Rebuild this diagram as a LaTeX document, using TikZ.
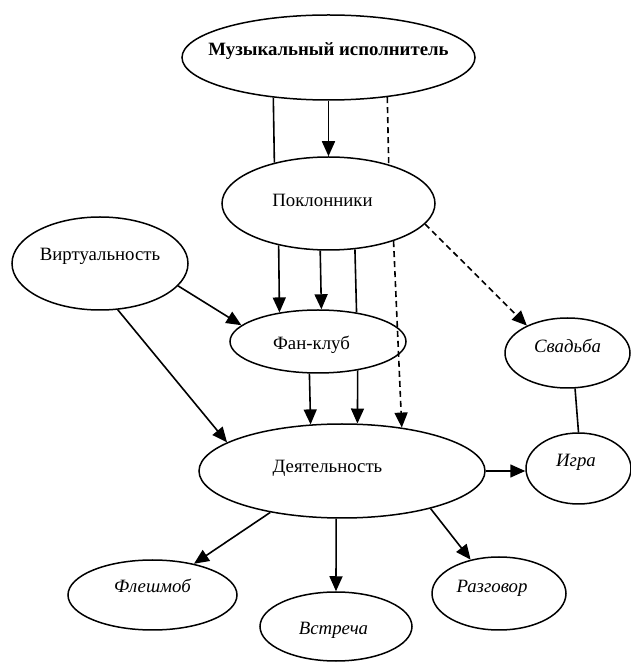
\documentclass[tikz,border=0pt]{standalone}
\usepackage{fontspec}
\setmainfont{Liberation Serif}
\usetikzlibrary{arrows.meta,shapes.geometric}
\newcommand\eltxt[3]{\makebox[0pt]{\hspace*{#1}\raisebox{#2}[0pt][0pt]{#3}}}
\begin{document}
\begin{tikzpicture}[x=1pt,y=1pt,
  txt/.style={font=\fontsize{18.8}{22}\selectfont},
  el/.style={ellipse, draw, line width=1.5pt, inner sep=0pt, txt},
  arr/.style={-{Triangle[length=15pt,width=13pt]}, line width=1.6pt},
  ln/.style={line width=1.6pt},
  dsh/.style={dash pattern=on 6pt off 4pt}]
\useasboundingbox (0,0) rectangle (630,662);
\node[el, minimum width=293pt, minimum height=85pt, font=\fontsize{18.8}{22}\selectfont\bfseries] (mus) at (328.5,604.5) {\eltxt{0pt}{2pt}{Музыкальный исполнитель}};
\node[el, minimum width=213pt, minimum height=93pt] (pok) at (328.5,458.5) {\eltxt{-12pt}{-3pt}{Поклонники}};
\node[el, minimum width=176pt, minimum height=93pt] (virt) at (100,398.5) {\eltxt{0pt}{3pt}{Виртуальность}};
\node[el, minimum width=176pt, minimum height=63pt] (fan) at (318,320.5) {\eltxt{-13pt}{-8pt}{Фан-клуб}};
\node[el, minimum width=286pt, minimum height=94pt] (dey) at (342,191) {\eltxt{-29pt}{-1.5pt}{Деятельность}};
\node[el, minimum width=125pt, minimum height=70pt] (svad) at (567.5,309) {\eltxt{0pt}{0.5pt}{\itshape Свадьба}};
\node[el, minimum width=105pt, minimum height=71pt] (igra) at (578.5,193.5) {\eltxt{-5pt}{1.5pt}{\itshape Игра}};
\node[el, minimum width=169pt, minimum height=70pt] (flesh) at (152.5,67) {\eltxt{0pt}{2pt}{\itshape Флешмоб}};
\node[el, minimum width=152pt, minimum height=69pt] (vstr) at (336,35.5) {\eltxt{-5pt}{-8.5pt}{\itshape Встреча}};
\node[el, minimum width=134pt, minimum height=73pt] (razg) at (499,68.5) {\eltxt{-14pt}{0.5pt}{\itshape Разговор}};
% musician -> fans
\draw[ln] (mus.216.5) -- (pok.143.1);
\draw[arr] (mus.south) -- (pok.north);
\draw[ln, dsh] (mus.326.9) -- (pok.33);
% fans -> fan club
\draw[arr] (pok.220.5) -- (fan.143.2);
\draw[arr] (pok.260.8) -- (fan.84.6);
\draw[ln] (pok.300.5) -- (fan.37.7);
\draw[arr, dsh] (pok.330.2) -- (dey.36.55);
\draw[arr, dsh] (pok.348.9) -- (svad.146.6);
% virtuality
\draw[arr] (virt.344.6) -- (fan.168.2);
\draw[arr] (virt.291.6) -- (dey.166.3);
% fan club -> activity
\draw[arr] (fan.255.7) -- (dey.124.9);
\draw[arr] (fan.324.1) -- (dey.72.2);
% activity -> game, wedding -- game
\draw[arr] (dey.east) -- (dey.east -| igra.west);
\draw[ln] (svad.282.2) -- (igra.north);
% activity -> bottom
\draw[arr] (dey.210.8) -- (flesh.37.2);
\draw[arr] (dey.263.9) -- (vstr.north);
\draw[arr] (dey.337.9) -- (razg.130.1);
\end{tikzpicture}
\end{document}
